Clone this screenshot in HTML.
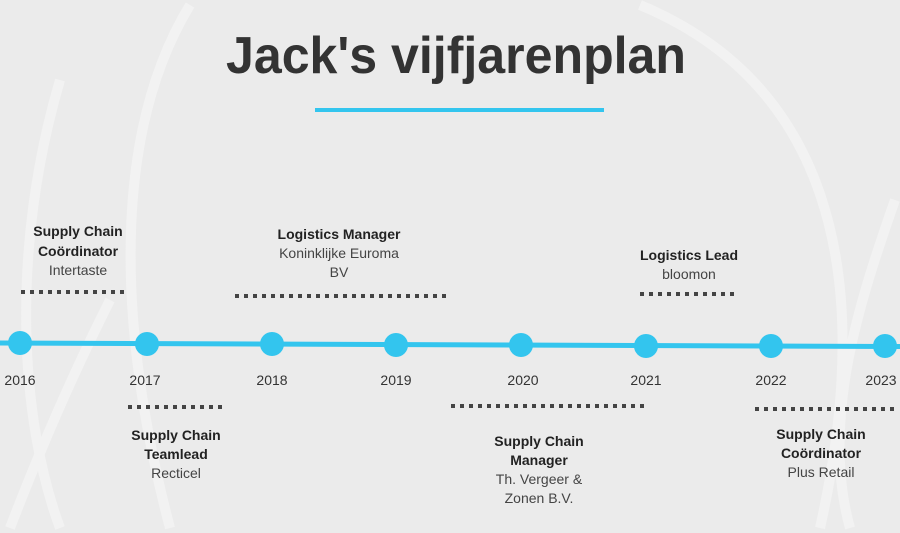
<!DOCTYPE html>
<html><head><meta charset="utf-8"><style>
html,body{margin:0;padding:0;background:#ebebeb;width:900px;height:533px;overflow:hidden;}
svg{display:block;overflow:hidden;}
text{font-family:"Liberation Sans","DejaVu Sans",sans-serif;fill:#333;}
.b{font-weight:bold;font-size:14px;fill:#222;}
.n{font-size:14px;fill:#444;}
.y{font-size:14px;fill:#333;}
</style></head><body>
<svg width="900" height="533" viewBox="0 0 900 533" xmlns="http://www.w3.org/2000/svg">
<rect width="900" height="533" fill="#ebebeb"/>
<g fill="none" stroke="#f3f3f3" stroke-width="10" opacity="0.9">
<path d="M60 528 C20 420 10 250 60 80"/>
<path d="M190 5 C120 120 110 300 170 528"/>
<path d="M640 5 C820 80 880 260 820 528"/>
<path d="M895 200 C860 300 820 420 850 528"/>
<path d="M10 528 C40 450 70 380 110 300"/>
</g>
<text x="456" y="73" text-anchor="middle" font-size="52" font-weight="bold" fill="#3a3a3a" textLength="460" lengthAdjust="spacingAndGlyphs">Jack's vijfjarenplan</text>
<rect x="315" y="108" width="289" height="4" fill="#33c5ee"/>
<line x1="0" y1="343" x2="900" y2="346.5" stroke="#33c5ee" stroke-width="5"/>
<g fill="#33c5ee">
<circle cx="20" cy="343" r="12"/><circle cx="147" cy="344" r="12"/><circle cx="272" cy="344" r="12"/><circle cx="396" cy="345" r="12"/><circle cx="521" cy="345" r="12"/><circle cx="646" cy="346" r="12"/><circle cx="771" cy="346" r="12"/><circle cx="885" cy="346" r="12"/>
</g>
<g text-anchor="middle">
<text class="y" x="20" y="385">2016</text><text class="y" x="145" y="385">2017</text><text class="y" x="272" y="385">2018</text><text class="y" x="396" y="385">2019</text><text class="y" x="523" y="385">2020</text><text class="y" x="646" y="385">2021</text><text class="y" x="771" y="385">2022</text><text class="y" x="881" y="385">2023</text>
</g>
<g stroke="#444" stroke-width="4" stroke-dasharray="4 5">
<line x1="21" y1="292" x2="127" y2="292"/>
<line x1="235" y1="296" x2="451" y2="296"/>
<line x1="640" y1="294" x2="737" y2="294"/>
<line x1="128" y1="407" x2="224" y2="407"/>
<line x1="451" y1="406" x2="646" y2="406"/>
<line x1="755" y1="409" x2="898" y2="409"/>
</g>
<g text-anchor="middle">
<text class="b" x="78" y="236">Supply Chain</text>
<text class="b" x="78" y="256">Coördinator</text>
<text class="n" x="78" y="275">Intertaste</text>
<text class="b" x="339" y="239">Logistics Manager</text>
<text class="n" x="339" y="258">Koninklijke Euroma</text>
<text class="n" x="339" y="277">BV</text>
<text class="b" x="689" y="260">Logistics Lead</text>
<text class="n" x="689" y="279">bloomon</text>
<text class="b" x="176" y="440">Supply Chain</text>
<text class="b" x="176" y="459">Teamlead</text>
<text class="n" x="176" y="478">Recticel</text>
<text class="b" x="539" y="446">Supply Chain</text>
<text class="b" x="539" y="465">Manager</text>
<text class="n" x="539" y="484">Th. Vergeer &amp;</text>
<text class="n" x="539" y="503">Zonen B.V.</text>
<text class="b" x="821" y="439">Supply Chain</text>
<text class="b" x="821" y="458">Coördinator</text>
<text class="n" x="821" y="477">Plus Retail</text>
</g>
</svg>
</body></html>
